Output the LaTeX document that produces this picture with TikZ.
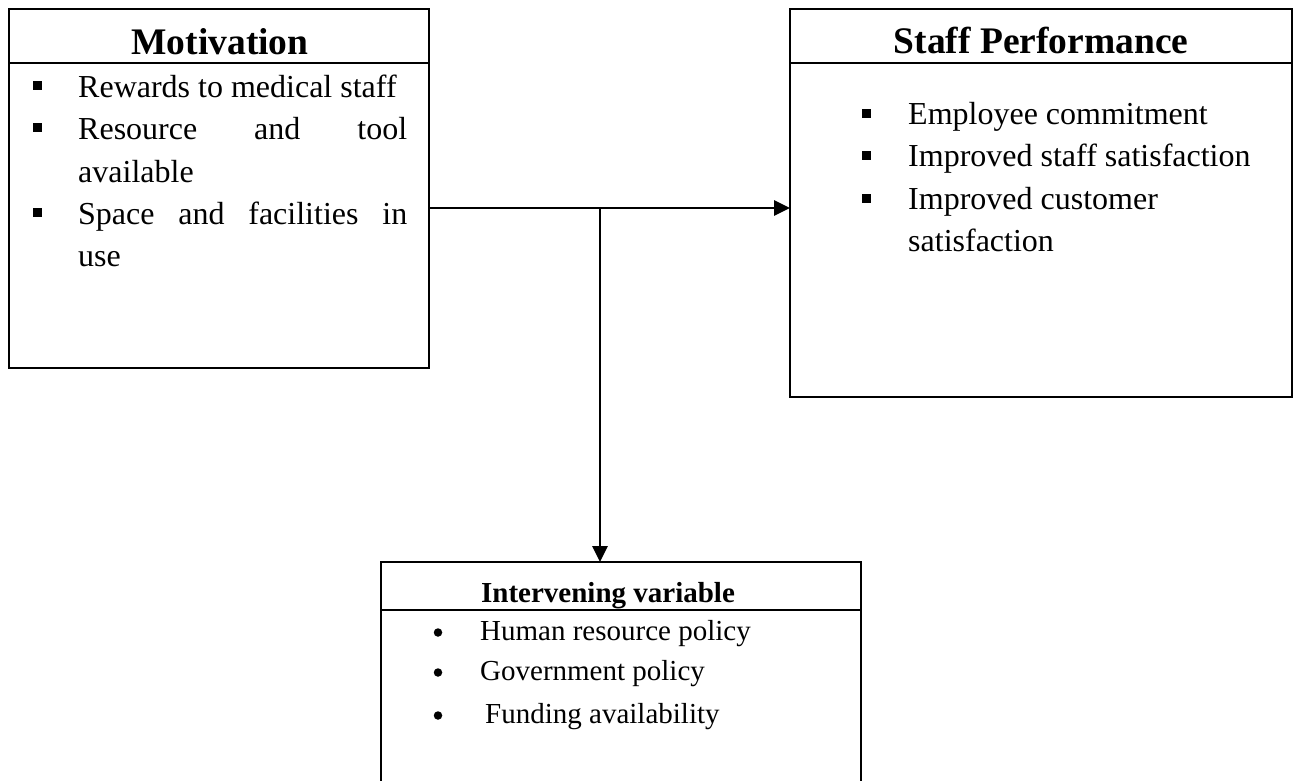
\documentclass[tikz,border=0pt]{standalone}
\usepackage{fontspec}
\setmainfont{Liberation Serif}
\usetikzlibrary{arrows.meta}

\begin{document}
\begin{tikzpicture}[x=1pt,y=-1pt,
  box/.style={draw, line width=2.7pt, inner sep=0pt, outer sep=0pt, anchor=north west},
  rule/.style={line width=2.2pt},
  head/.style={inner sep=0pt, anchor=base, font=\fontsize{37.5}{42}\selectfont\bfseries},
  smallhead/.style={inner sep=0pt, anchor=base, font=\fontsize{29}{34}\selectfont\bfseries},
  item/.style={inner sep=0pt, anchor=base west, font=\fontsize{32}{38}\selectfont},
  smallitem/.style={inner sep=0pt, anchor=base west, font=\fontsize{29}{34}\selectfont},
  sq/.style={rectangle, fill, minimum size=9pt, inner sep=0pt},
  dot/.style={circle, fill, minimum size=8.5pt, inner sep=0pt},
  arr/.style={line width=2.7pt, -{Triangle[length=16pt,width=15pt]}}]

\clip (0,0) rectangle (1293,781);

% Boxes
\node[box, minimum width=420pt, minimum height=359pt] (mot) at (9,9) {};
\node[box, minimum width=502pt, minimum height=388pt] (sp) at (790,9) {};
\node[box, minimum width=480pt, minimum height=260pt] (iv) at (381,562) {};

% Header rules
\draw[rule] ([yshift=-54pt]mot.north west) -- ([yshift=-54pt]mot.north east);
\draw[rule] ([yshift=-54pt]sp.north west) -- ([yshift=-54pt]sp.north east);
\draw[rule] ([yshift=-48pt]iv.north west) -- ([yshift=-48pt]iv.north east);

% Titles
\node[head] (motT) at (220,55) {Motivation};
\node[head] (spT) at (1041,54) {Staff Performance};
\node[smallhead] (ivT) at (608,602) {Intervening variable};

% Motivation items
\node[sq] (mb1) at (37,86) {};
\node[item] (m1) at (78,97.7) {Rewards to medical staff};
\node[sq] (mb2) at (37,128) {};
\node[item] (m2) at (78,139.5) {\makebox[329pt][s]{Resource and tool}};
\node[item] (m3) at (78,182.5) {available};
\node[sq] (mb3) at (37,212.5) {};
\node[item] (m4) at (78,224) {\makebox[329pt][s]{Space and facilities in}};
\node[item] (m5) at (78,266.7) {use};

% Staff performance items
\node[sq] (sb1) at (866,114) {};
\node[item] (s1) at (908,125) {Employee commitment};
\node[sq] (sb2) at (866,155.7) {};
\node[item] (s2) at (908,166.7) {Improved staff satisfaction};
\node[sq] (sb3) at (866,198) {};
\node[item] (s3) at (908,209) {Improved customer};
\node[item] (s4) at (908,251.7) {satisfaction};

% Intervening variable items
\node[dot] (ib1) at (438,632.5) {};
\node[smallitem] (i1) at (480,640) {Human resource policy};
\node[dot] (ib2) at (438,672.5) {};
\node[smallitem] (i2) at (480,680) {Government policy};
\node[dot] (ib3) at (438,715.5) {};
\node[smallitem] (i3) at (485,723) {Funding availability};

% Connectors
\coordinate (j) at (600,208);
\draw[arr] (mot.east |- j) -- (sp.west |- j);
\draw[arr] (j) -- (j |- iv.north);

\end{tikzpicture}
\end{document}
